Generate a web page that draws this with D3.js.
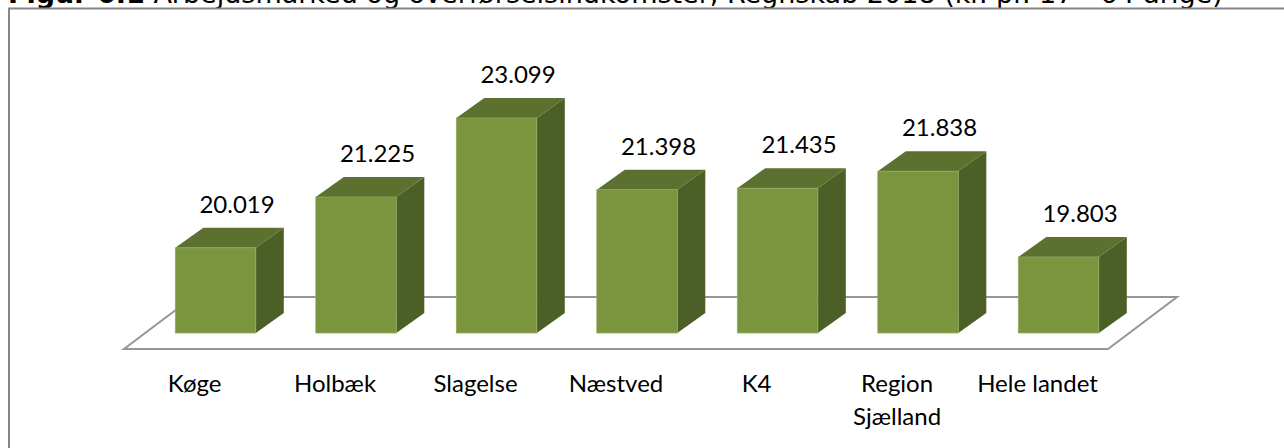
<!DOCTYPE html>
<html>
<head>
<meta charset="utf-8">
<script src="https://cdn.jsdelivr.net/npm/d3@7"></script>
<style>
    html, body { margin: 0; padding: 0; background: #fff; overflow: hidden; }
    svg { display: block; }
    .title { font-family: "DejaVu Sans", sans-serif; font-size: 27px; fill: #000; }
    .lbl { font-family: Lato, sans-serif; font-size: 24px; fill: #000; text-anchor: middle; }
</style>
</head>
<body>
<div id="chart"></div>
<script>
let categories = ["Køge", "Holbæk", "Slagelse", "Næstved", "K4", "Region Sjælland", "Hele landet"];
let values = [20019, 21225, 23099, 21398, 21435, 21838, 19803];
let valueLabels = ["20.019", "21.225", "23.099", "21.398", "21.435", "21.838", "19.803"];
let axisDomain = [18000, 24000];

var width = 1284, height = 448;
var depthX = 28, depthY = 20;

var svg = d3.select("#chart").append("svg")
    .attr("width", width)
    .attr("height", height);

var x = d3.scaleBand()
    .domain(categories)
    .range([145.3, 1128.8])
    .paddingInner(0.427)
    .paddingOuter(0.2135);

var y = d3.scaleLinear()
    .domain(axisDomain)
    .range([333, 80]);

// title is cut off by the top of the picture in the original
svg.append("text")
    .attr("class", "title")
    .attr("x", 8)
    .attr("y", 3)
    .html('<tspan font-weight="bold">Figur 6.1</tspan> Arbejdsmarked og overførselsindkomster, Regnskab 2018 (kr. pr. 17 - 64 årige)');

// chart frame, only top and left are inside the picture
svg.append("path")
    .attr("d", "M9,448V8.5H1284")
    .attr("fill", "none")
    .attr("stroke", "#868686")
    .attr("stroke-width", 2);

// floor
svg.append("path")
    .attr("d", "M124,349H1108L1177,297H193Z")
    .attr("fill", "#fff")
    .attr("stroke", "#969696")
    .attr("stroke-width", 2);

var bars = svg.selectAll("g.bar")
    .data(categories)
    .enter()
    .append("g")
    .attr("class", "bar");

function val(d) { return values[categories.indexOf(d)]; }

bars.append("path")
    .attr("fill", "#4c5f27")
    .attr("d", function(d) {
        var r = x(d) + x.bandwidth();
        return "M" + r + "," + y(axisDomain[0])
            + "L" + (r + depthX) + "," + (y(axisDomain[0]) - depthY)
            + "V" + (y(val(d)) - depthY)
            + "L" + r + "," + y(val(d)) + "Z";
    });

bars.append("path")
    .attr("fill", "#5c7030")
    .attr("d", function(d) {
        var l = x(d), t = y(val(d));
        return "M" + l + "," + t
            + "L" + (l + depthX) + "," + (t - depthY)
            + "H" + (l + depthX + x.bandwidth())
            + "L" + (l + x.bandwidth()) + "," + t + "Z";
    });

bars.append("rect")
    .attr("x", function(d) { return x(d); })
    .attr("y", function(d) { return y(val(d)); })
    .attr("width", x.bandwidth())
    .attr("height", function(d) { return y(axisDomain[0]) - y(val(d)); })
    .attr("fill", "#7a953d")
    .attr("stroke", "#93aa62")
    .attr("stroke-width", 0.75);

bars.append("text")
    .attr("class", "lbl")
    .attr("x", function(d) { return x(d) + x.bandwidth() / 2 + 21.5; })
    .attr("y", function(d) { return y(val(d)) - 35; })
    .text(function(d, i) { return valueLabels[i]; });

// category labels, wrapped on the space only for the long region name
var catText = svg.selectAll("text.cat")
    .data(categories)
    .enter()
    .append("text")
    .attr("class", "lbl cat")
    .attr("y", 392);

catText.each(function(d) {
    var cx = x(d) + x.bandwidth() / 2 - 21;
    var words = d === "Region Sjælland" ? d.split(" ") : [d];
    var t = d3.select(this);
    words.forEach(function(w, j) {
        t.append("tspan")
            .attr("x", cx)
            .attr("dy", j ? 33 : 0)
            .text(w);
    });
});
</script>
</body>
</html>
